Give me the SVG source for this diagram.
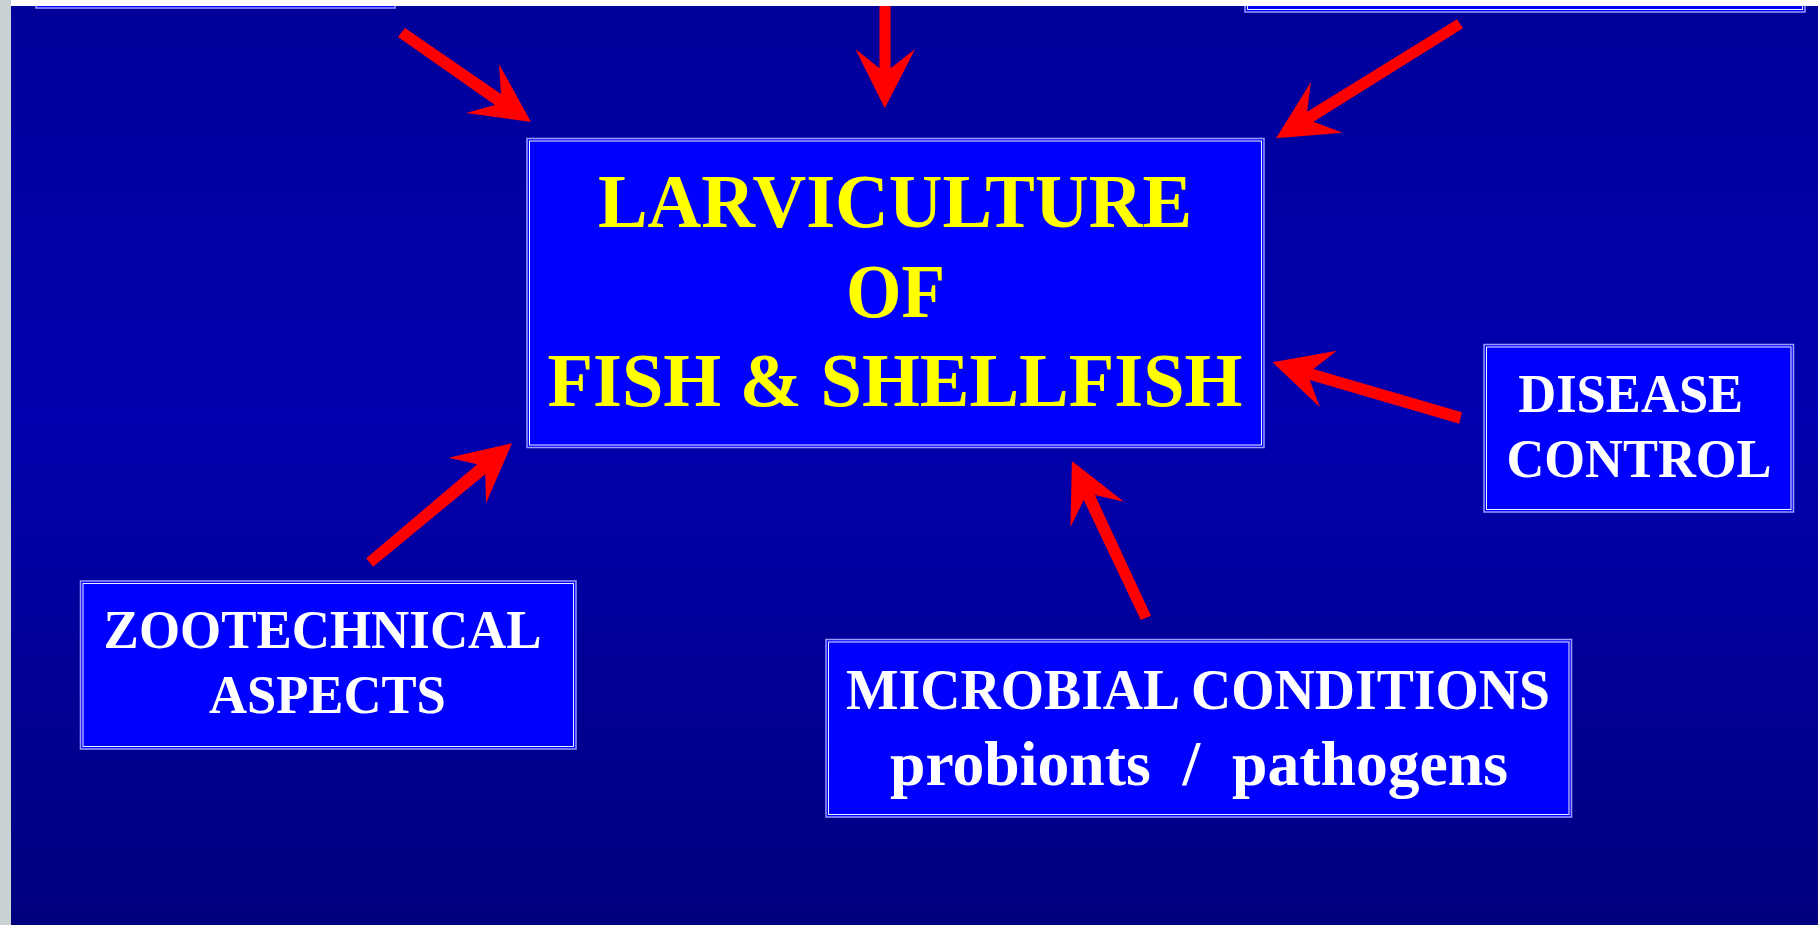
<svg xmlns="http://www.w3.org/2000/svg" width="1818" height="925" viewBox="0 0 1818 925">
<defs>
<linearGradient id="bg" x1="0" y1="0" x2="0" y2="1">
<stop offset="0" stop-color="#000099"/>
<stop offset="0.45" stop-color="#0000ae"/>
<stop offset="1" stop-color="#00007e"/>
</linearGradient>
</defs>
<style>
.box{fill:#0000ff;stroke:#9a9aff;stroke-width:1.5}
.inner{fill:none;stroke:#f0f0ff;stroke-width:1}
.t{font-family:"Liberation Serif","Times New Roman",serif;font-weight:bold;text-anchor:middle}
.y{fill:#ffff00;font-size:77px}
.w{fill:#ffffff}
.arrow{fill:#ff0000;stroke:none}
</style>
<rect x="0" y="0" width="1818" height="925" fill="url(#bg)"/>

<g id="node-top-left">
<rect class="box" x="36" y="-60" width="359" height="68"/>
<rect class="inner" x="38.5" y="-57.5" width="354" height="63"/>
</g>
<g id="node-top-right">
<rect class="box" x="1245" y="-60" width="560" height="72"/>
<rect class="inner" x="1247.5" y="-57.5" width="555" height="67"/>
</g>

<g id="node-main">
<rect class="box" x="527" y="138.5" width="737" height="309"/>
<rect class="inner" x="529.5" y="141" width="732" height="304"/>
<text class="t y" x="895" y="227" textLength="594" lengthAdjust="spacingAndGlyphs">LARVICULTURE</text>
<text class="t y" x="895.5" y="316.5" textLength="99" lengthAdjust="spacingAndGlyphs">OF</text>
<text class="t y" x="895" y="406" textLength="695" lengthAdjust="spacingAndGlyphs">FISH &amp; SHELLFISH</text>
</g>

<g id="node-disease">
<rect class="box" x="1484" y="344.5" width="309.5" height="167.5"/>
<rect class="inner" x="1486.5" y="347" width="304.5" height="162.5"/>
<text class="t w" x="1630.7" y="412.3" font-size="55" textLength="225" lengthAdjust="spacingAndGlyphs">DISEASE</text>
<text class="t w" x="1639" y="476.7" font-size="55" textLength="265" lengthAdjust="spacingAndGlyphs">CONTROL</text>
</g>

<g id="node-zootech">
<rect class="box" x="80.5" y="581" width="495.5" height="168"/>
<rect class="inner" x="83" y="583.5" width="490.5" height="163"/>
<text class="t w" x="322.6" y="648.3" font-size="54" textLength="438" lengthAdjust="spacingAndGlyphs">ZOOTECHNICAL</text>
<text class="t w" x="327.4" y="712.7" font-size="54" textLength="237" lengthAdjust="spacingAndGlyphs">ASPECTS</text>
</g>

<g id="node-microbial">
<rect class="box" x="826" y="639.5" width="745.5" height="177.5"/>
<rect class="inner" x="828.5" y="642" width="740.5" height="172.5"/>
<text class="t w" x="1198" y="709.3" font-size="58" textLength="704" lengthAdjust="spacingAndGlyphs">MICROBIAL CONDITIONS</text>
<text class="t w" x="1199" y="785" font-size="63" textLength="618" lengthAdjust="spacingAndGlyphs" xml:space="preserve">probionts  /  pathogens</text>
</g>

<g id="connectors">
<polygon class="arrow" points="398,37 405,28 501,94 499,64 531,122 466,113 495,105"/>
<polygon class="arrow" points="879.5,0 890.6,0 890.6,68.3 915.2,49 884.8,108.3 855.4,49 879.5,68.3"/>
<polygon class="arrow" points="1457,19.3 1463,28.3 1313.5,121.7 1342.7,132.7 1276,138.3 1310.8,82.3 1307.2,111.7"/>
<polygon class="arrow" points="1462,412.3 1313.4,369 1336.9,350.7 1272.5,362.3 1319.9,407.3 1309.8,380 1459.3,423.7"/>
<polygon class="arrow" points="373.1,566.7 485.3,474.3 486,503.3 512,443.3 448.5,457.7 477.2,464.3 366.2,558.3"/>
<polygon class="arrow" points="1151,615.7 1094.9,495 1124,501.7 1071.9,461 1070.4,527.3 1083.7,500 1140.8,620"/>
</g>

<rect x="0" y="0" width="1818" height="6" fill="#ffffff"/>
<rect x="0" y="0" width="11" height="925" fill="#c8d2d2"/>
</svg>
